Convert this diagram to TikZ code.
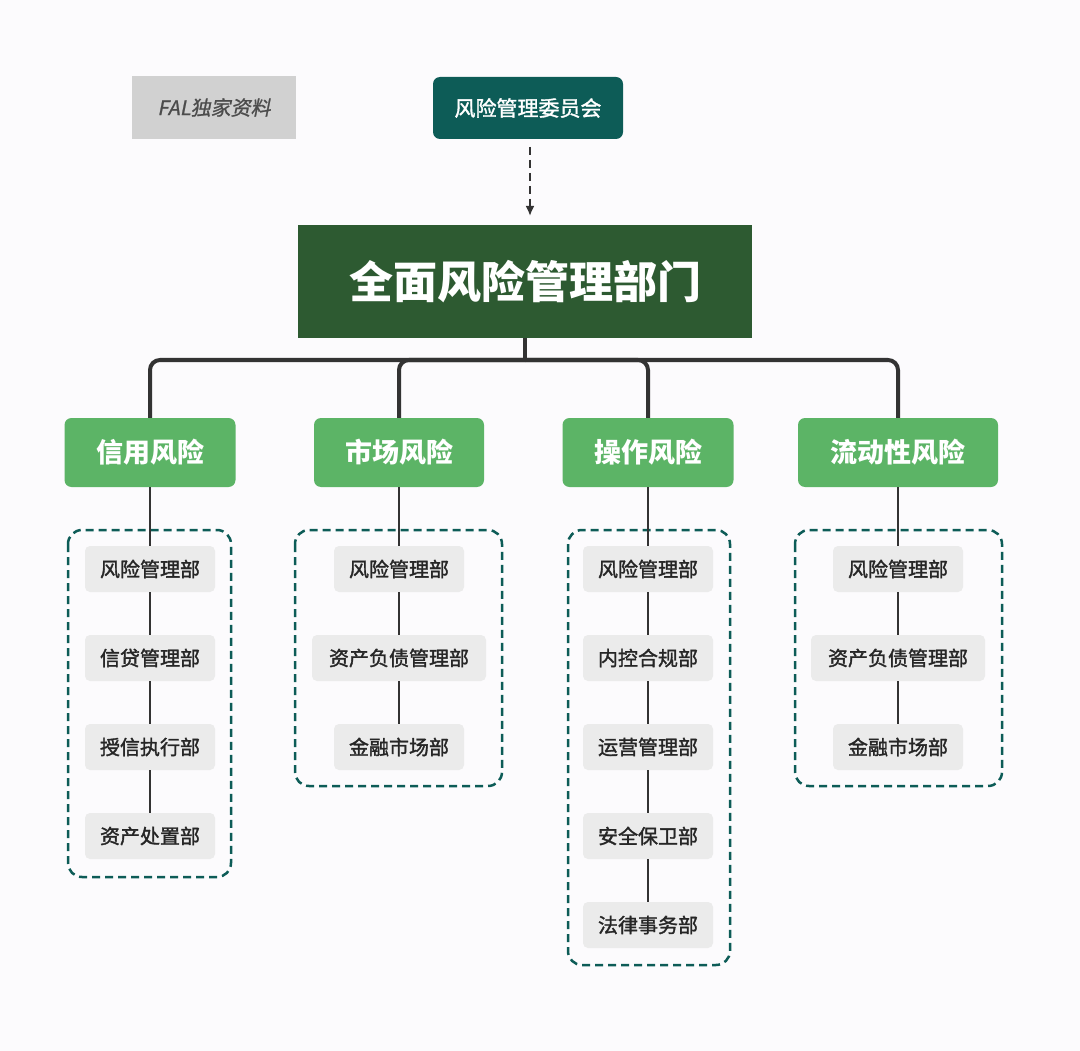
\documentclass[tikz,border=0pt]{standalone}
\usepackage{fontspec}
\newfontfamily\cjk{Noto Sans CJK SC}
\newfontfamily\cjkmed[FakeBold=1.6]{Noto Sans CJK SC}
\newfontfamily\cjkit[FakeSlant=0.2,FakeBold=1]{Noto Sans CJK SC}
\usetikzlibrary{arrows.meta}
\definecolor{bg}{HTML}{FCFBFD}
\definecolor{teal}{HTML}{0D5C57}
\definecolor{dgreen}{HTML}{2D5A31}
\definecolor{lgreen}{HTML}{5CB466}
\definecolor{item}{HTML}{EBEBEB}
\definecolor{lin}{HTML}{333333}
\tikzset{
 x=1pt,y=-1pt,
 itembox/.style={fill=item,rounded corners=5pt,minimum height=46pt,minimum width=130pt,font=\cjkmed\fontsize{20}{20}\selectfont,text=black!85},
 cat/.style={fill=lgreen,rounded corners=7pt,minimum height=69pt,font=\cjk\bfseries\fontsize{27}{27}\selectfont,text=white},
 grp/.style={draw=teal,dashed,line width=2.5pt,dash pattern=on 8pt off 5pt,rounded corners=14pt},
 thin/.style={draw=lin,line width=2pt},
}
\begin{document}
\begin{tikzpicture}
\fill[bg] (0,0) rectangle (1080,1051);
\useasboundingbox (0,0) rectangle (1080,1051);
\node[fill=black!18,minimum width=164pt,minimum height=63pt,font=\cjkit\fontsize{20}{20}\selectfont,text=black!70] (fal) at (214,107.5) {FAL独家资料};
\node[fill=teal,rounded corners=7pt,minimum width=190pt,minimum height=62pt,font=\cjkmed\fontsize{21}{21}\selectfont,text=white] (com) at (528,108) {风险管理委员会};
\node[fill=dgreen,minimum width=454pt,minimum height=113pt,font=\cjk\bfseries\fontsize{44}{44}\selectfont,text=white] (main) at (525,281.5) {全面风险管理部门};
\draw[lin,line width=2pt,dashed,dash pattern=on 8pt off 5pt,-{Latex[length=10pt,width=9pt]}] (530,147) -- (530,216);
% groups
\draw[grp] (68,530) rectangle (231,877);
\draw[grp] (295,530) rectangle (502,786);
\draw[grp] (568,530) rectangle (730,965);
\draw[grp] (795,530) rectangle (1002,786);
\node[cat,minimum width=171pt] (c1) at (150,452.5) {信用风险};
\node[cat,minimum width=170pt] (c2) at (399,452.5) {市场风险};
\node[cat,minimum width=171pt] (c3) at (648,452.5) {操作风险};
\node[cat,minimum width=200pt] (c4) at (898,452.5) {流动性风险};
\coordinate (bus) at (525,360);
\draw[lin,line width=4pt] (main.south) -- (bus);
\draw[lin,line width=4pt,rounded corners=10pt] (bus) -| (c1.north);
\draw[lin,line width=4pt,rounded corners=10pt] (bus) -| (c2.north);
\draw[lin,line width=4pt,rounded corners=10pt] (bus) -| (c3.north);
\draw[lin,line width=4pt,rounded corners=10pt] (bus) -| (c4.north);
% col1
\node[itembox] (a1) at (150,569) {风险管理部};
\node[itembox] (a2) at (150,658) {信贷管理部};
\node[itembox] (a3) at (150,747) {授信执行部};
\node[itembox] (a4) at (150,836) {资产处置部};
\draw[thin] (c1) -- (a1) -- (a2) -- (a3) -- (a4);
% col2
\node[itembox] (b1) at (399,569) {风险管理部};
\node[itembox,minimum width=174pt] (b2) at (399,658) {资产负债管理部};
\node[itembox] (b3) at (399,747) {金融市场部};
\draw[thin] (c2) -- (b1) -- (b2) -- (b3);
% col3
\node[itembox] (d1) at (648,569) {风险管理部};
\node[itembox] (d2) at (648,658) {内控合规部};
\node[itembox] (d3) at (648,747) {运营管理部};
\node[itembox] (d4) at (648,836) {安全保卫部};
\node[itembox] (d5) at (648,925) {法律事务部};
\draw[thin] (c3) -- (d1) -- (d2) -- (d3) -- (d4) -- (d5);
% col4
\node[itembox] (e1) at (898,569) {风险管理部};
\node[itembox,minimum width=174pt] (e2) at (898,658) {资产负债管理部};
\node[itembox] (e3) at (898,747) {金融市场部};
\draw[thin] (c4) -- (e1) -- (e2) -- (e3);
\end{tikzpicture}
\end{document}
